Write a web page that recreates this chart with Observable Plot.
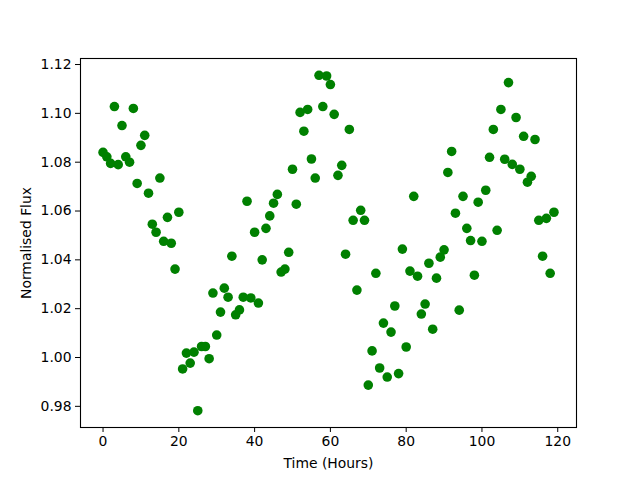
<!DOCTYPE html>
<html>
<head>
<meta charset="utf-8">
<script src="https://cdn.jsdelivr.net/npm/d3@7"></script>
<script src="https://cdn.jsdelivr.net/npm/@observablehq/plot@0.6"></script>
<style>
  html, body { margin: 0; padding: 0; background: white; }
  #chart svg { display: block; }
</style>
</head>
<body>
<div id="chart"></div>
<script>
const time = [0,1,2,3,4,5,6,7,8,9,10,11,12,13,14,15,16,17,18,19,
  20,21,22,23,24,25,26,27,28,29,30,31,32,33,34,35,36,37,38,39,
  40,41,42,43,44,45,46,47,48,49,50,51,52,53,54,55,56,57,58,59,
  60,61,62,63,64,65,66,67,68,69,70,71,72,73,74,75,76,77,78,79,
  80,81,82,83,84,85,86,87,88,89,90,91,92,93,94,95,96,97,98,99,
  100,101,102,103,104,105,106,107,108,109,110,111,112,113,114,115,116,117,118,119];

const flux = [
  1.0840,1.0822,1.0795,1.1028,1.0790,1.0950,1.0822,1.0800,1.1020,1.0713,
  1.0869,1.0910,1.0673,1.0546,1.0513,1.0735,1.0476,1.0574,1.0468,1.0362,
  1.0595,0.9953,1.0018,0.9977,1.0022,0.9782,1.0045,1.0045,0.9995,1.0264,
  1.0092,1.0186,1.0284,1.0247,1.0415,1.0175,1.0195,1.0247,1.0640,1.0244,
  1.0513,1.0223,1.0400,1.0529,1.0580,1.0632,1.0668,1.0350,1.0362,1.0431,
  1.0771,1.0628,1.1004,1.0927,1.1016,1.0813,1.0735,1.1156,1.1028,1.1153,
  1.1118,1.0996,1.0746,1.0787,1.0423,1.0934,1.0562,1.0276,1.0603,1.0562,
  0.9887,1.0027,1.0345,0.9957,1.0141,0.9920,1.0104,1.0211,0.9934,1.0444,
  1.0043,1.0354,1.0660,1.0333,1.0178,1.0219,1.0386,1.0116,1.0325,1.0411,
  1.0441,1.0758,1.0844,1.0591,1.0194,1.0660,1.0529,1.0479,1.0337,1.0636,
  1.0476,1.0685,1.0820,1.0934,1.0521,1.1016,1.0812,1.1126,1.0791,1.0983,
  1.0771,1.0906,1.0718,1.0742,1.0893,1.0562,1.0415,1.0570,1.0345,1.0595];

const xTicks = [0, 20, 40, 60, 80, 100, 120];
const yTicks = [0.98, 1.00, 1.02, 1.04, 1.06, 1.08, 1.10, 1.12];
const xLabel = "Time (Hours)";
const yLabel = "Normalised Flux";

const data = time.map((t, i) => ({t, f: flux[i]}));

const chart = Plot.plot({
  width: 640,
  height: 480,
  marginLeft: 80,
  marginRight: 64,
  marginTop: 58,
  marginBottom: 53,
  style: {fontFamily: "DejaVu Sans", fontSize: "13.9px", color: "black", background: "white"},
  x: {domain: [-5.95, 124.95]},
  y: {domain: [0.97133, 1.12247]},
  marks: [
    Plot.dot(data, {x: "t", y: "f", r: 4.8, fill: "#008000", stroke: "none"}),
    Plot.frame({stroke: "black", strokeWidth: 1.1}),
    Plot.axisX({ticks: xTicks, tickFormat: d => String(d), tickSize: 5, tickPadding: 4,
      label: xLabel, labelAnchor: "center", labelArrow: "none", labelOffset: 40}),
    Plot.axisY({ticks: yTicks, tickFormat: d => d.toFixed(2), tickSize: 5, tickPadding: 4,
      label: yLabel, labelAnchor: "center", labelArrow: "none", labelOffset: 59})
  ]
});
document.getElementById("chart").appendChild(chart);
</script>
</body>
</html>
